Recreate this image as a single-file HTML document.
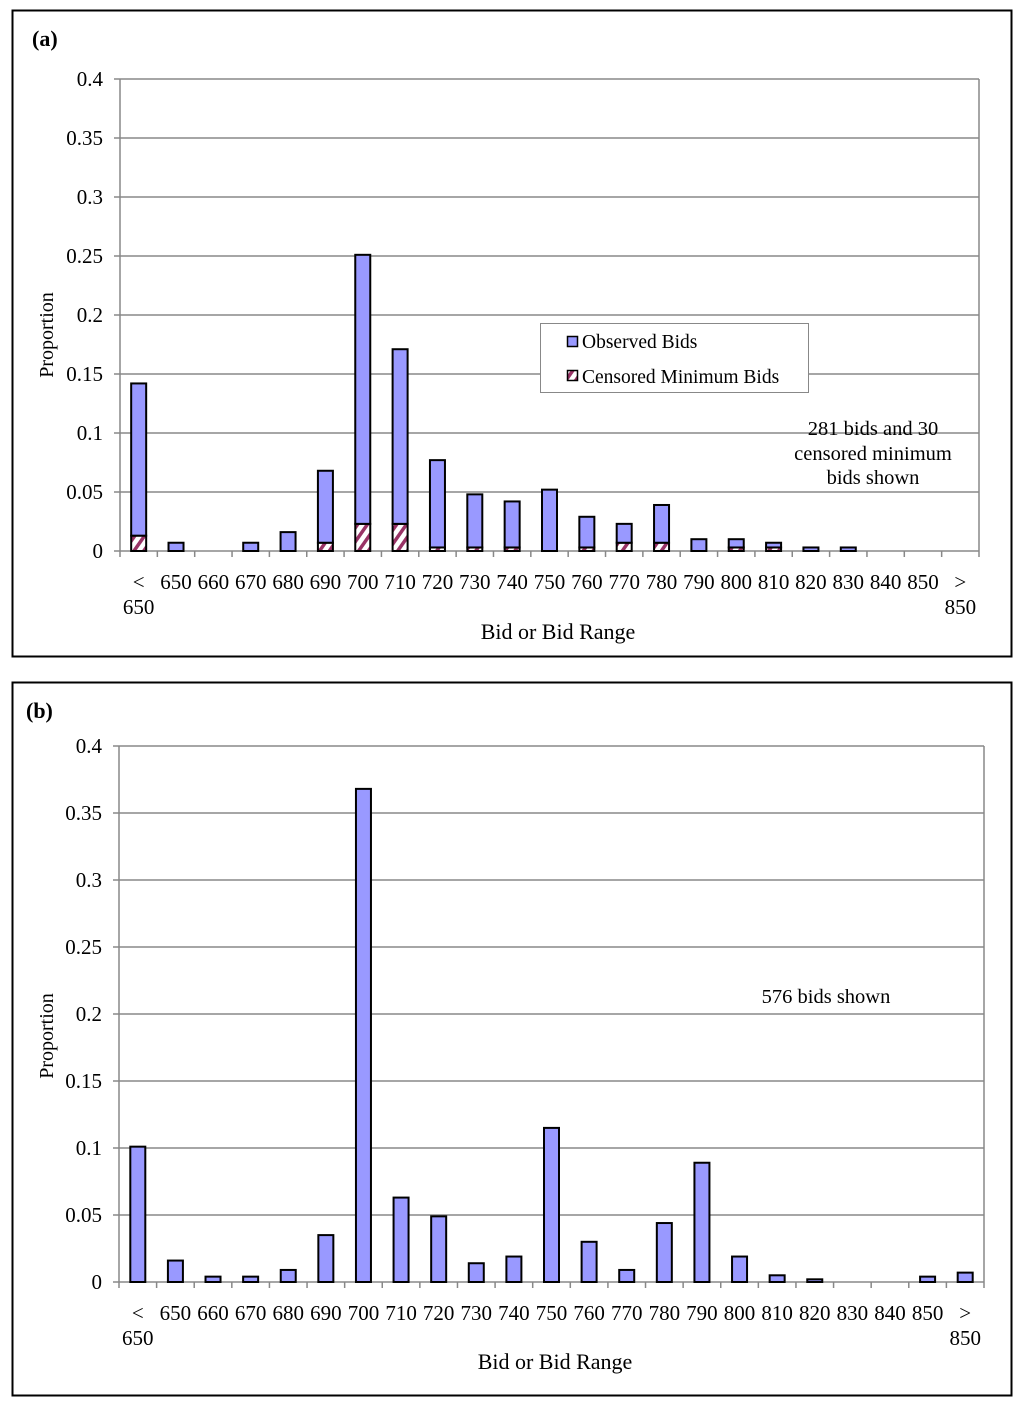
<!DOCTYPE html>
<html><head><meta charset="utf-8"><style>
body{margin:0;background:#fff;width:1024px;height:1405px;overflow:hidden}
svg{display:block;font-family:"Liberation Serif",serif}
</style></head><body>
<svg id="c" width="1024" height="1405">
<defs><pattern id="hatch" patternUnits="userSpaceOnUse" width="8" height="8" patternTransform="rotate(35)"><rect width="8" height="8" fill="#fff"/><rect width="3.5" height="8" fill="#993366"/></pattern></defs>
<rect x="12.5" y="10.5" width="999" height="646" fill="none" stroke="#000" stroke-width="2"/>
<rect x="12.5" y="682.5" width="999" height="713" fill="none" stroke="#000" stroke-width="2"/>
<text x="32" y="46" font-size="22" font-weight="bold">(a)</text>
<text x="26" y="718" font-size="22" font-weight="bold">(b)</text>
<text transform="translate(53,335) rotate(-90)" text-anchor="middle" font-size="20">Proportion</text>
<text transform="translate(53,1036) rotate(-90)" text-anchor="middle" font-size="20">Proportion</text>
<text x="558" y="639" text-anchor="middle" font-size="22">Bid or Bid Range</text>
<text x="555" y="1369" text-anchor="middle" font-size="22">Bid or Bid Range</text>
<g id="ga"></g><g id="gb"></g>
<g font-size="20.5" text-anchor="middle"><text x="873" y="435">281 bids and 30</text><text x="873" y="460">censored minimum</text><text x="873" y="484">bids shown</text></g>
<text x="826" y="1003" text-anchor="middle" font-size="20.5">576 bids shown</text>
<g>
<rect x="540.5" y="323.5" width="268" height="69" fill="#fff" stroke="#888"/>
<rect x="567.5" y="336.5" width="10" height="10" fill="#9999ff" stroke="#000" stroke-width="1.5"/>
<text x="582" y="348" font-size="19.5">Observed Bids</text>
<rect x="567.5" y="370.5" width="10" height="10" fill="url(#hatch)" stroke="#000" stroke-width="1.5"/>
<text x="582" y="383" font-size="19.5">Censored Minimum Bids</text>
</g>
</svg>
<script>
const categories=["<650","650","660","670","680","690","700","710","720","730","740","750","760","770","780","790","800","810","820","830","840","850",">850"];
const tickLabels=["0","0.05","0.1","0.15","0.2","0.25","0.3","0.35","0.4"];
const tickValues=[0,0.05,0.1,0.15,0.2,0.25,0.3,0.35,0.4];
const observedA=[0.129,0.007,0,0.007,0.016,0.061,0.228,0.148,0.074,0.045,0.039,0.052,0.026,0.016,0.032,0.010,0.007,0.004,0.003,0.003,0,0,0];
const censoredA=[0.013,0,0,0,0,0.007,0.023,0.023,0.003,0.003,0.003,0,0.003,0.007,0.007,0,0.003,0.003,0,0,0,0,0];
const observedB=[0.101,0.016,0.004,0.004,0.009,0.035,0.368,0.063,0.049,0.014,0.019,0.115,0.030,0.009,0.044,0.089,0.019,0.005,0.002,0,0,0.004,0.007];
const NS="http://www.w3.org/2000/svg";
function mk(t,a,p){const e=document.createElementNS(NS,t);for(const k in a)e.setAttribute(k,a[k]);p.appendChild(e);return e;}
function panel(g,L,R,T,B,obs,cens,pre){
  const n=categories.length,w=(R-L)/n;
  const y=v=>B-(v/0.4)*(B-T);
  const x=i=>L+w*(i+0.5);
  mk('line',{x1:L,y1:T,x2:L,y2:B,stroke:'#888','stroke-width':1.5},g);
  mk('line',{x1:R,y1:T,x2:R,y2:B,stroke:'#888','stroke-width':1.5},g);
  tickValues.forEach((v,i)=>{
    const l=mk('line',{x1:L-6,x2:R,y1:y(v),y2:y(v),stroke:'#888','stroke-width':1.5},g);
    
    
    const t=mk('text',{x:L-17,y:y(v)+7,'text-anchor':'end','font-size':21},g);
    t.textContent=tickLabels[i];
    
    
  });
  for(let i=0;i<=n;i++)mk('line',{x1:L+w*i,x2:L+w*i,y1:B,y2:B+6,stroke:'#888','stroke-width':1.5},g);
  categories.forEach((c,i)=>{
    const cx=x(i);
    if(c[0]=='<'||c[0]=='>'){
      const t1=mk('text',{x:cx,y:B+38,'text-anchor':'middle','font-size':21},g);t1.textContent=c[0];
      const t2=mk('text',{x:cx,y:B+63,'text-anchor':'middle','font-size':21},g);t2.textContent=c.slice(1);
      
      
    }else{
      const t=mk('text',{x:cx,y:B+38,'text-anchor':'middle','font-size':21},g);t.textContent=c;
      
    }
    const cv=cens?cens[i]:0,ov=obs[i];
    if(cv>0){
      const r=mk('rect',{x:cx-7.5,y:y(cv),width:15,height:y(0)-y(cv),fill:'url(#hatch)',stroke:'#000','stroke-width':2},g);
      
      
    }
    if(ov>0){
      const r=mk('rect',{x:cx-7.5,y:y(cv+ov),width:15,height:y(cv)-y(cv+ov),fill:'#9999ff',stroke:'#000','stroke-width':2},g);
      
      
    }
  });
}
panel(document.getElementById('ga'),120,979,79,551,observedA,censoredA,'panel-a-');
panel(document.getElementById('gb'),119,984,746,1282,observedB,null,'panel-b-');
</script>
</body></html>
